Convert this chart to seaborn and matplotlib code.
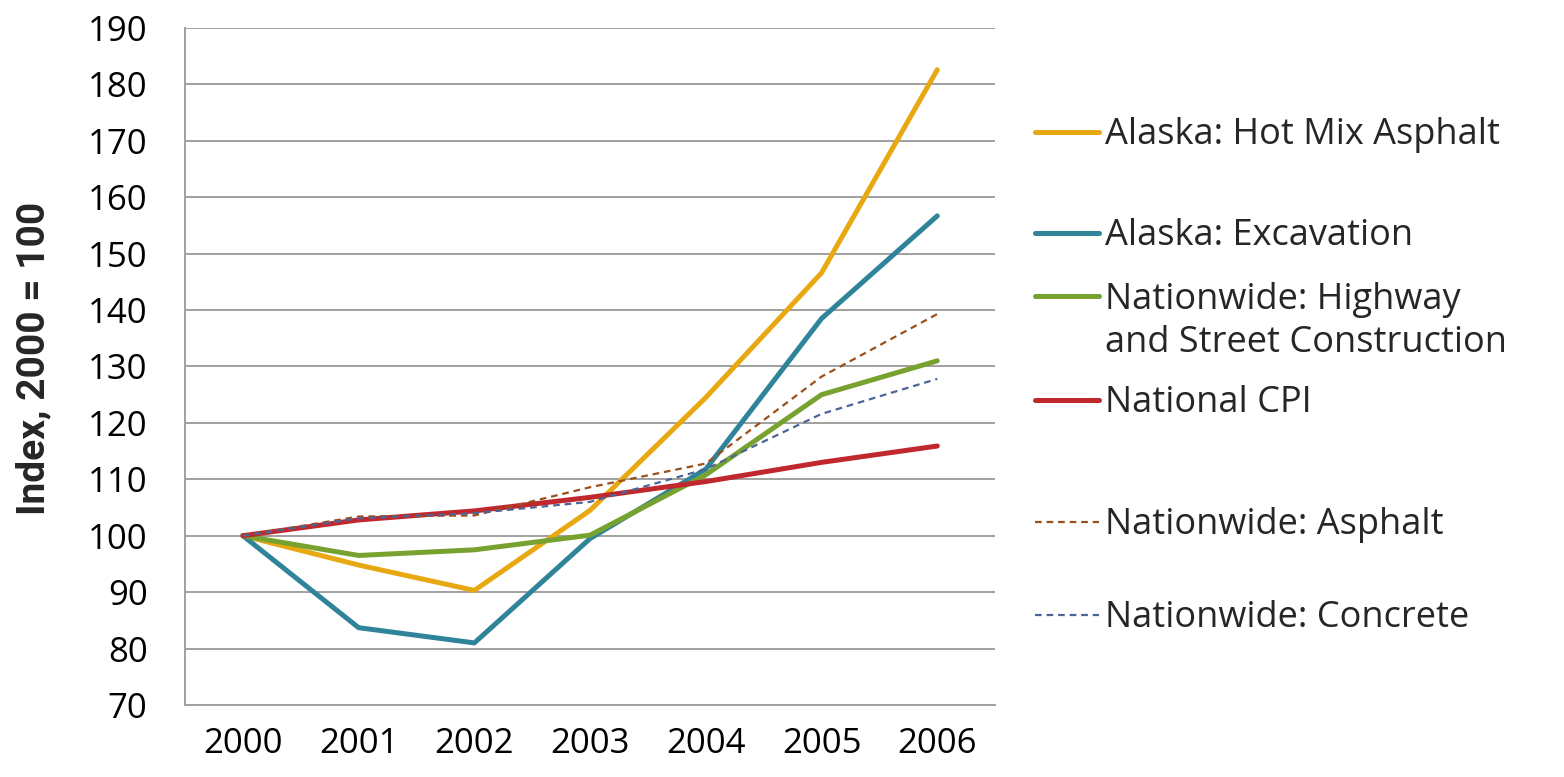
import numpy as np
import pandas as pd
import matplotlib
matplotlib.use("Agg")
import matplotlib.pyplot as plt
import seaborn as sns

years = ["2000", "2001", "2002", "2003", "2004", "2005", "2006"]

hot_mix_asphalt = [100, 94.8, 90.3, 104.5, 124.5, 146.6, 182.6]
excavation = [100, 83.7, 81.0, 99.5, 111.8, 138.5, 156.7]
highway_street = [100, 96.5, 97.5, 100.1, 110.8, 125.0, 131.0]
national_cpi = [100, 102.8, 104.4, 106.8, 109.6, 113.0, 115.9]
nat_asphalt = [100, 103.4, 103.6, 108.6, 112.8, 128.2, 139.3]
nat_concrete = [100, 103.1, 104.0, 106.0, 111.8, 121.6, 127.8]

series_names = [
    "Alaska: Hot Mix Asphalt",
    "Alaska: Excavation",
    "Nationwide: Highway and Street Construction",
    "National CPI",
    "Nationwide: Asphalt",
    "Nationwide: Concrete",
]
series_values = [hot_mix_asphalt, excavation, highway_street,
                 national_cpi, nat_asphalt, nat_concrete]
colors = ["#E8A812", "#2F8499", "#78A22F", "#C0282E", "#99501A", "#4D6497"]
dash_styles = ["", "", "", "", (3, 2.2), (3, 2.2)]
widths = [3.6, 3.6, 3.6, 3.6, 1.6, 1.6]

frames = []
for name, vals in zip(series_names, series_values):
    frames.append(pd.DataFrame({"year": years, "index": vals, "series": name}))
df = pd.concat(frames, ignore_index=True)
df["x"] = df["year"].map({y: i for i, y in enumerate(years)})

sns.set_theme(style="white")
plt.rcParams["font.family"] = ["Open Sans", "DejaVu Sans"]

fig = plt.figure(figsize=(15.64, 7.77), dpi=100)
ax = fig.add_axes([0.1183, 0.0927, 0.5180, 0.8713])

for name, col, dsh, lw in zip(series_names, colors, dash_styles, widths):
    sub = df[df["series"] == name]
    sns.lineplot(data=sub, x="x", y="index", ax=ax, color=col, linewidth=lw,
                 label=name, legend=False, solid_capstyle="round")
    line = ax.get_lines()[-1]
    if dsh != "":
        line.set_dashes(dsh)
        line.set_dash_capstyle("butt")

ax.set_xlim(-0.5, 6.5)
ax.set_ylim(70, 190)
ax.set_yticks(np.arange(70, 191, 10))
ax.set_xticks(range(len(years)))
ax.set_xticklabels(years)
ax.yaxis.grid(True, color="#A0A0A0", linewidth=1.4)
ax.set_axisbelow(True)
for s in ["top", "right"]:
    ax.spines[s].set_visible(False)
for s in ["left", "bottom"]:
    ax.spines[s].set_color("#A0A0A0")
    ax.spines[s].set_linewidth(1.4)
ax.tick_params(axis="both", length=0, labelsize=25, colors="black")
ax.tick_params(axis="y", pad=27)
ax.tick_params(axis="x", pad=16)
ax.set_xlabel("")
ax.set_ylabel("Index, 2000 = 100", fontsize=28, fontweight="bold",
              family=["Liberation Sans Narrow", "Roboto", "DejaVu Sans"])
ax.yaxis.set_label_coords(-0.164, 0.512)

# legend, one entry per row; the long label wraps onto a second line
handles = ax.get_lines()
legend_labels = ["Alaska: Hot Mix Asphalt", "Alaska: Excavation",
                 "Nationwide: Highway", "National CPI",
                 "Nationwide: Asphalt", "Nationwide: Concrete"]
legend_rows = [0.826, 0.696, 0.614, 0.481, 0.324, 0.204]
legs = []
for h, lab, yrow in zip(handles, legend_labels, legend_rows):
    leg = fig.legend(handles=[h], labels=[lab], loc="center left",
                     bbox_to_anchor=(0.662, yrow), frameon=False,
                     fontsize=26, handlelength=1.75, handletextpad=0.18,
                     borderaxespad=0, borderpad=0)
    legs.append(leg)

fig.canvas.draw()
bb = legs[2].get_texts()[0].get_window_extent()
fig.text(bb.x0, bb.y0 - 43, "and Street Construction", fontsize=26,
         va="bottom", ha="left", transform=matplotlib.transforms.IdentityTransform())

fig.savefig("out.png", dpi=100, facecolor="white")
